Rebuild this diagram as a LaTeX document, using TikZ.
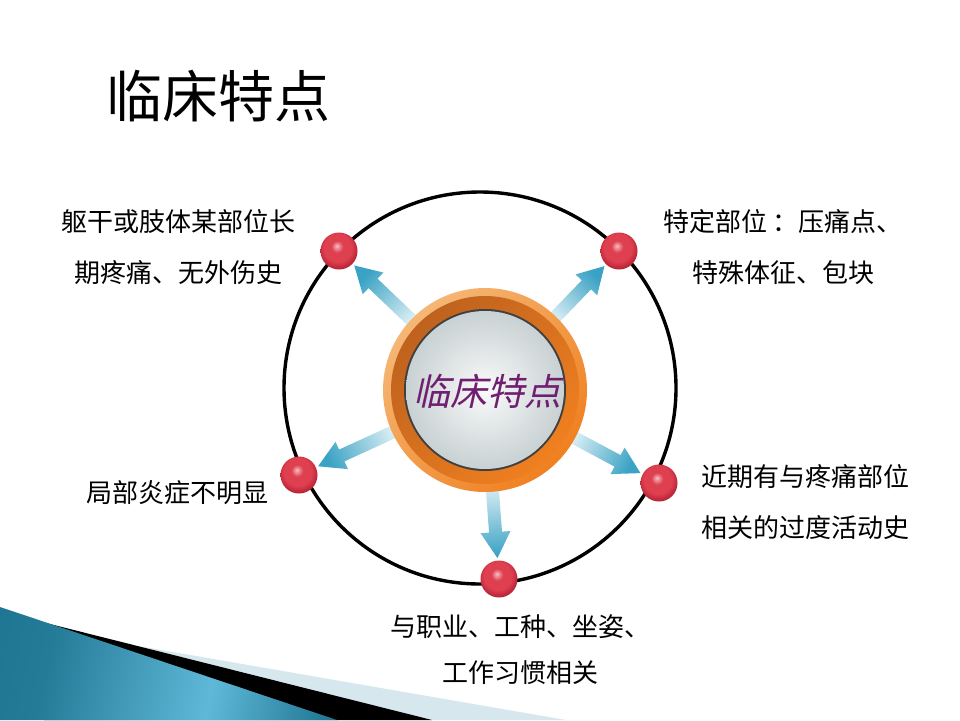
\documentclass[tikz,border=0pt]{standalone}
\usepackage{fontspec}
\newfontfamily\cjk{Noto Sans CJK SC}
\newfontfamily\cjkslant[FakeSlant=0.22]{Noto Sans CJK SC}
\usetikzlibrary{calc}
\definecolor{dotred}{RGB}{222,64,80}
\definecolor{dotdark}{RGB}{184,36,52}
\definecolor{dotpink}{RGB}{246,190,196}
\definecolor{arrowcyan}{RGB}{58,162,196}
\definecolor{arrowpale}{RGB}{232,245,248}
\definecolor{hubpurple}{RGB}{112,30,112}
\definecolor{ringlight}{RGB}{245,183,117}
\definecolor{ringorange}{RGB}{240,128,32}
\definecolor{ringbrown}{RGB}{190,98,30}
\definecolor{decoblue}{RGB}{20,108,136}
\definecolor{decolight}{RGB}{96,184,216}
\definecolor{decopale}{RGB}{214,232,238}
\pgfdeclareradialshading{redsphere}{\pgfpoint{-3bp}{7bp}}{color(0bp)=(dotpink); color(8bp)=(dotred); color(19bp)=(dotred); color(27bp)=(dotdark); color(50bp)=(dotdark)}
\pgfdeclarehorizontalshading{decoshade}{100bp}{color(0bp)=(decoblue); color(30bp)=(decoblue!80!decolight); color(58bp)=(decolight); color(82bp)=(decoblue); color(100bp)=(decoblue)}

\begin{document}
\begin{tikzpicture}[x=1pt, y=-1pt,
  redball/.style = {circle, minimum size=37pt, inner sep=0pt, shading=redsphere},
  notetext/.style = {font=\cjk\fontsize{26}{51}\selectfont, align=center},
  arrowshade/.style = {left color=arrowpale, right color=arrowcyan}]
  \fill[white] (0,0) rectangle (960,720);
  \useasboundingbox (0,0) rectangle (960,720);
  \coordinate (hub) at (485,390);
  \coordinate (orbit) at (480,388);
  % corner decoration
  \fill[decopale] (40,629) -- (566,720) -- (40,720) -- cycle;
  \fill[black] (44,622.5) -- (432,720) -- (44,720) -- cycle;
  \shade[shading=decoshade, shading angle=-12] (0,607) -- (337,720) -- (0,720) -- cycle;
  % orbit and its balls
  \draw[line width=3.4pt] (orbit) circle (196pt);
  \node[redball] (dtl) at (339,251) {};
  \node[redball] (dtr) at (619,251) {};
  \node[redball] (dl) at (299,475) {};
  \node[redball] (dr) at (659,483) {};
  \node[redball] (db) at (499,579) {};
  % arrows from the hub
  \foreach \d/\a in {dtl/136, dtr/46, dl/204, dr/-28, db/-86} {
    \coordinate (tip) at ($(\d.center)!21pt!(hub)$);
    \coordinate (base) at ($(tip)!26pt!(hub)$);
    \coordinate (tail) at ($(hub)!88pt!(\d.center)$);
    \shade[arrowshade, shading angle=90+\a]
      ($(tail)!6.5pt!90:(tip)$) -- ($(base)!6.5pt!-90:(hub)$) -- ($(base)!15pt!-90:(hub)$)
      -- (tip) -- ($(base)!15pt!90:(hub)$) -- ($(base)!6.5pt!90:(hub)$)
      -- ($(tail)!6.5pt!-90:(tip)$) -- cycle;
  }
  % hub ring
  \shade[left color=ringlight, right color=ringorange, shading angle=45] (hub) circle (102pt);
  \shade[left color=ringbrown, right color=ringorange, shading angle=45] (hub) circle (94pt);
  \fill[black!75] (hub) circle (81pt);
  \shade[inner color=white!96!gray, outer color={rgb,255:red,200;green,209;blue,211}] (hub) circle (79pt);
  \node[font=\cjkslant\fontsize{37}{37}\selectfont, text=hubpurple] (hubtext) at (487,391) {临床特点};
  % texts
  \node[font=\cjk\fontsize{56}{56}\selectfont] (title) at (218,96) {临床特点};
  \node[notetext] (ntl) at (178,247) {躯干或肢体某部位长\\期疼痛、无外伤史};
  \node[notetext] (ntr) at (783,247) {特定部位 ：压痛点、\\特殊体征、包块};
  \node[notetext] (nl) at (177,493) {局部炎症不明显};
  \node[notetext] (nr) at (805,502) {近期有与疼痛部位\\相关的过度活动史};
  \node[notetext, font=\cjk\fontsize{26}{46}\selectfont] (nb) at (520,650) {与职业、工种、坐姿、\\工作习惯相关};
\end{tikzpicture}
\end{document}
